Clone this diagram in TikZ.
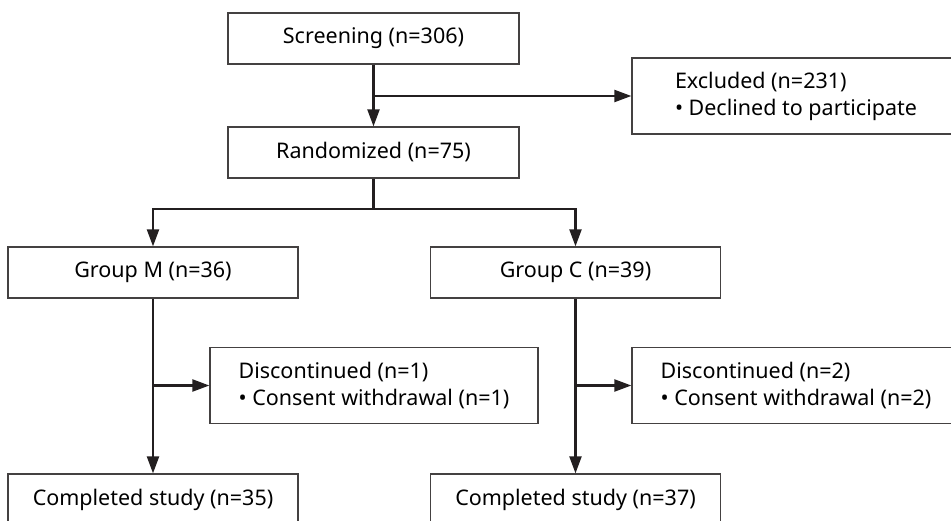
\documentclass[tikz,border=0pt]{standalone}
\usepackage{fontspec}
\setmainfont{Noto Sans}
\usepackage{xcolor}
\usetikzlibrary{arrows.meta}
\definecolor{inkgrey}{HTML}{231F20}

\begin{document}
\begin{tikzpicture}[x=1pt,y=-1pt,
    box/.style={draw=inkgrey!85, line width=1.3pt, minimum height=51pt, inner sep=0pt,
        font=\fontsize{21.5}{27}\selectfont, text=black},
    widebox/.style={box, minimum width=291pt},
    grpbox/.style={box, minimum width=290pt},
    notebox/.style={box, minimum width=328pt, minimum height=76pt, align=left},
    arr/.style={-{Triangle[length=17pt,width=12pt]}, line width=2.2pt, draw=inkgrey}]
    \useasboundingbox (0,0) rectangle (951,520);
    \clip (0,0) rectangle (951,520);

    % Enrollment
    \node[widebox] (screen) at (373.5,38.5) {Screening (n=306)};
    \node[notebox] (excl) at (796,96) {Excluded (n=231)\\\textbullet\ Declined to participate};
    \node[widebox] (rand) at (373.5,152.5) {Randomized (n=75)};

    % Allocation
    \node[grpbox] (grpM) at (153,272.5) {Group M (n=36)};
    \node[grpbox] (grpC) at (575.5,272.5) {Group C (n=39)};

    % Follow-up
    \node[notebox] (discM) at (374,385.5) {Discontinued (n=1)\\\textbullet\ Consent withdrawal (n=1)};
    \node[notebox] (discC) at (796,385.5) {Discontinued (n=2)\\\textbullet\ Consent withdrawal (n=2)};
    \node[grpbox] (doneM) at (153,499.5) {Completed study (n=35)};
    \node[grpbox] (doneC) at (575.5,499.5) {Completed study (n=37)};

    % Connectors
    \coordinate (split) at (373.5,209);
    \draw[arr] (screen.south) -- (rand.north);
    \draw[arr] (screen.south |- excl.west) -- (excl.west);
    \draw[arr, -] (rand.south) -- (split);
    \draw[arr] (split) -| (grpM.north);
    \draw[arr] (split) -| (grpC.north);
    \draw[arr] (grpM.south) -- (doneM.north);
    \draw[arr] (grpM.south |- discM.west) -- (discM.west);
    \draw[arr] (grpC.south) -- (doneC.north);
    \draw[arr] (grpC.south |- discC.west) -- (discC.west);
\end{tikzpicture}
\end{document}
